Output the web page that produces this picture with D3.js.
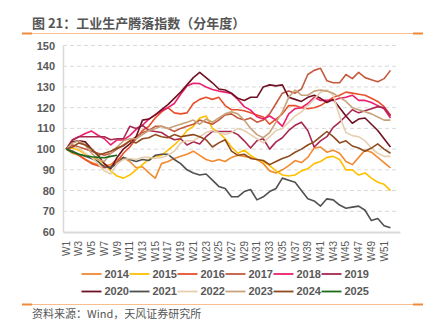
<!DOCTYPE html>
<html>
<head>
<meta charset="utf-8">
<script src="https://cdn.jsdelivr.net/npm/d3@7"></script>
<style>
  body { margin: 0; background: #fff; }
  svg { display: block; }
</style>
</head>
<body>
<div id="chart"></div>
<script>
// weekly index by year, W1 = 100
const weeks = d3.range(1, 54).map(i => 'W' + i);
const tickWeeks = d3.range(1, 52, 2).map(i => 'W' + i);
const yTicks = [60, 70, 80, 90, 100, 110, 120, 130, 140, 150];
const years = ['2014', '2015', '2016', '2017', '2018', '2019', '2020', '2021', '2022', '2023', '2024', '2025'];

const v2014 = [100, 98, 97, 95, 93.5, 92.5, 92, 92.5, 95, 96, 94, 91, 91.5, 88.5, 86, 93, 94, 95.5, 96.5, 97.5, 99, 97, 95, 94, 95, 94, 96, 97, 96.5, 96, 95, 93, 89.5, 88.5, 90, 92, 94.5, 93.5, 96, 100.5, 101, 98.5, 99.5, 98, 94, 92.5, 96, 99.5, 98.5, 96, 93.5, 91];
const v2015 = [100, 100.5, 99.5, 97.5, 96, 95, 93, 89.5, 87, 86, 87.5, 90, 92.5, 95, 96.5, 97, 99.5, 102, 105, 109, 111, 115, 116, 110, 108, 105, 101, 98, 99.5, 97, 95, 94, 92, 89.5, 87.5, 87, 87.5, 89.5, 90.5, 93, 94, 96, 96.5, 95, 90, 90, 87.5, 88.5, 86, 84, 83, 80];
const v2016 = [100, 99, 97, 95, 93, 92, 91, 91.5, 94, 98, 101, 105, 109, 111, 115, 118, 120, 117.5, 117, 117.5, 122, 124, 125, 124, 125, 121, 119, 119, 118.5, 117.5, 116.5, 115.5, 112, 114.5, 117, 121, 121, 120, 119.5, 120, 121, 123, 125, 126, 127.5, 127, 126.5, 126, 124.5, 123, 120.5, 116.5];
const v2017 = [100, 102, 101, 100, 99, 98, 97, 98, 100, 102, 104, 106, 108, 109, 111, 111, 110, 108.5, 110, 111, 112, 114, 113, 112, 114, 116.5, 117, 115, 114, 115, 113, 114, 117, 122, 127, 128, 127, 129, 136, 138, 139, 133, 132, 132, 136, 134, 137, 134.5, 133.5, 132.5, 134, 138];
const v2018 = [100, 104.4, 106, 107.5, 108.7, 106.7, 105, 102, 104.4, 104.4, 106.5, 109.5, 111.5, 114.5, 116.5, 118.5, 120, 122, 126.5, 130.5, 131.8, 131.6, 130, 128.8, 128, 127.5, 126.8, 124, 120.5, 118.8, 115.6, 114.5, 116, 114, 111, 117, 119.5, 120, 122, 125, 123.5, 123.5, 123.5, 124.5, 125, 126, 123.5, 123.5, 122.5, 121, 119.5, 115];
const v2019 = [100, 104.5, 106, 106, 106, 106, 106, 104.5, 105, 105, 111, 110, 111.5, 109, 108.5, 108, 106, 104.5, 105, 102, 103.5, 102.5, 106, 108.5, 108.5, 108.5, 108.5, 107, 104, 100.5, 104, 105, 100, 103.5, 105.5, 109, 111.5, 113, 109, 101, 104, 106, 110.5, 113, 116, 119, 117.5, 118.5, 119.5, 120.5, 120, 116];
const v2020 = [100, 103.5, 104, 103.5, 100, 97, 93, 90.5, 96, 100, 102.5, 106, 114, 114.5, 116.5, 119, 121.5, 124.5, 127.5, 131, 134.5, 137, 134.5, 132, 129, 128.5, 127, 124.5, 123.5, 125, 125, 130, 131, 130.5, 131, 125, 124, 123, 125, 126, 124.5, 122.5, 124, 120, 116, 112.5, 114.5, 115, 112, 109, 105, 101];
const v2021 = [100, 99, 97.5, 96.5, 95.5, 94, 91.5, 91, 93, 96, 95, 94, 95, 94.5, 97, 97.5, 97.5, 95, 93, 90, 88.5, 87.5, 88, 85, 82, 81, 77, 77, 79.5, 80.5, 75.5, 77, 79.5, 81, 86, 85, 84, 80, 76, 75, 72.5, 76, 75.5, 73, 71.5, 72, 72.5, 70.5, 65.5, 66.5, 63, 62];
const v2022 = [100, 101, 100.5, 98, 96, 93, 89.5, 88, 93, 95, 95.5, 95, 96, 96, 95.5, 96, 97, 99, 103, 104, 104, 106, 108, 109, 108, 107, 108, 110, 109, 107, 105, 103, 106, 109, 110, 113, 116, 118, 121, 124, 127.5, 128.5, 126, 116, 108, 106.5, 106, 104, 100.5, 98, 96.5, 96.5];
const v2023 = [100, 103, 104, 102, 98, 95, 94, 98, 101, 104, 105, 105, 107, 109, 110, 111, 110, 111, 112, 113, 114, 112, 114.5, 113, 115, 117, 118, 117, 114, 110, 107, 105.5, 108, 113, 118, 125, 128.5, 126, 126, 128, 128.5, 128, 127, 125, 123, 120, 119, 118, 117, 115.5, 114, 114];
const v2024 = [100, 101, 103, 102, 100, 97, 98, 99, 100.5, 101.5, 104, 103, 105, 105.5, 107, 106, 105.5, 107, 106, 106.5, 107, 106, 104.5, 101, 103, 104.5, 99, 97, 97.5, 95.5, 95, 94.5, 92.5, 94, 95.5, 96.5, 98.5, 100, 102, 103.5, 106, 108.5, 106, 103, 104, 101.5, 100.5, 99, 100.5, 102.5, 100, 98];
const v2025 = [100, 98.5, 97.5, 96.8, 96.3, 96, 95.8, 96.5, 97];

const seriesValues = [v2014, v2015, v2016, v2017, v2018, v2019, v2020, v2021, v2022, v2023, v2024, v2025];
const colors = ['#F28A30', '#FFC000', '#E8502C', '#C45A3E', '#EC1E6E', '#A8284F',
                '#701122', '#505050', '#E5CFAE', '#C8A27A', '#8E4B1F', '#1A6B1A'];

const series = years.map((y, i) => ({ year: y, color: colors[i], values: seriesValues[i] }));

const W = 431, H = 329;
const cjk = '"Noto Sans CJK SC", "Noto Sans", sans-serif';
const latin = '"Liberation Sans", Arial, sans-serif';

const svg = d3.select('#chart').append('svg')
  .attr('width', W)
  .attr('height', H);

// header and footer rules
function rule(y) {
  svg.append('line').attr('x1', 22).attr('x2', 423).attr('y1', y).attr('y2', y)
     .attr('stroke', '#F8BE8E').attr('stroke-width', 1);
  svg.append('line').attr('x1', 22).attr('x2', 32).attr('y1', y).attr('y2', y)
     .attr('stroke', '#EE8A3A').attr('stroke-width', 2);
  svg.append('line').attr('x1', 413).attr('x2', 423).attr('y1', y).attr('y2', y)
     .attr('stroke', '#EE8A3A').attr('stroke-width', 2);
}

svg.append('text')
   .attr('x', 32).attr('y', 28)
   .style('font-family', cjk).style('font-size', '13px').style('font-weight', 'bold')
   .attr('fill', '#555')
   .text('图 21：工业生产腾落指数（分年度）');
rule(33.5);

// scales
const x = d3.scaleBand().domain(weeks).range([63, 400]);
const y = d3.scaleLinear().domain([60, 150]).range([232, 45.5]);
const cx = w => x(w) + x.bandwidth() / 2;

// grid
svg.append('g')
   .selectAll('line')
   .data(yTicks.filter(t => t > 60))
   .enter().append('line')
   .attr('x1', 63).attr('x2', 398)
   .attr('y1', d => y(d)).attr('y2', d => y(d))
   .attr('stroke', '#D9D9D9').attr('stroke-dasharray', '4,3');

// y axis
const yAxis = d3.axisLeft(y).tickValues(yTicks).tickSize(0).tickPadding(8);
const gy = svg.append('g').attr('transform', 'translate(63,0)').call(yAxis);
gy.select('.domain').attr('stroke', '#D9D9D9').attr('stroke-width', 1.5);
gy.selectAll('text')
  .style('font-family', latin).style('font-size', '11px').style('font-weight', 'bold')
  .attr('fill', '#595959');

// x axis
const xAxis = d3.axisBottom(x).tickValues(tickWeeks).tickSize(0);
const gx = svg.append('g').attr('transform', 'translate(0,' + y(60) + ')').call(xAxis);
gx.select('.domain').attr('stroke', '#D9D9D9').attr('stroke-width', 2);
gx.selectAll('text')
  .attr('transform', 'rotate(-90)')
  .attr('x', -9).attr('y', 0).attr('dy', '0.35em')
  .style('text-anchor', 'end')
  .style('font-family', latin).style('font-size', '10px')
  .attr('fill', '#595959');

// lines
const line = d3.line()
  .x((d, i) => cx(weeks[i]))
  .y(d => y(d));

svg.append('g')
   .selectAll('path')
   .data(series)
   .enter().append('path')
   .attr('d', d => line(d.values))
   .attr('fill', 'none')
   .attr('stroke', d => d.color)
   .attr('stroke-width', 1.6)
   .attr('stroke-linejoin', 'round');

// legend, two rows of six
const legend = svg.append('g')
  .selectAll('g')
  .data(series)
  .enter().append('g')
  .attr('transform', (d, i) => 'translate(' + (81.5 + (i % 6) * 48) + ',' + (i < 6 ? 274 : 291.5) + ')');

legend.append('line')
  .attr('x1', 0).attr('x2', 20)
  .attr('stroke', d => d.color).attr('stroke-width', 1.8);

legend.append('text')
  .attr('x', 23).attr('dy', '0.35em')
  .style('font-family', latin).style('font-size', '11px').style('font-weight', 'bold')
  .attr('fill', '#595959')
  .text(d => d.year);

rule(304.5);

svg.append('text')
   .attr('x', 32).attr('y', 318)
   .style('font-family', cjk).style('font-size', '11px')
   .attr('fill', '#555')
   .text('资料来源：Wind，天风证券研究所');
</script>
</body>
</html>
